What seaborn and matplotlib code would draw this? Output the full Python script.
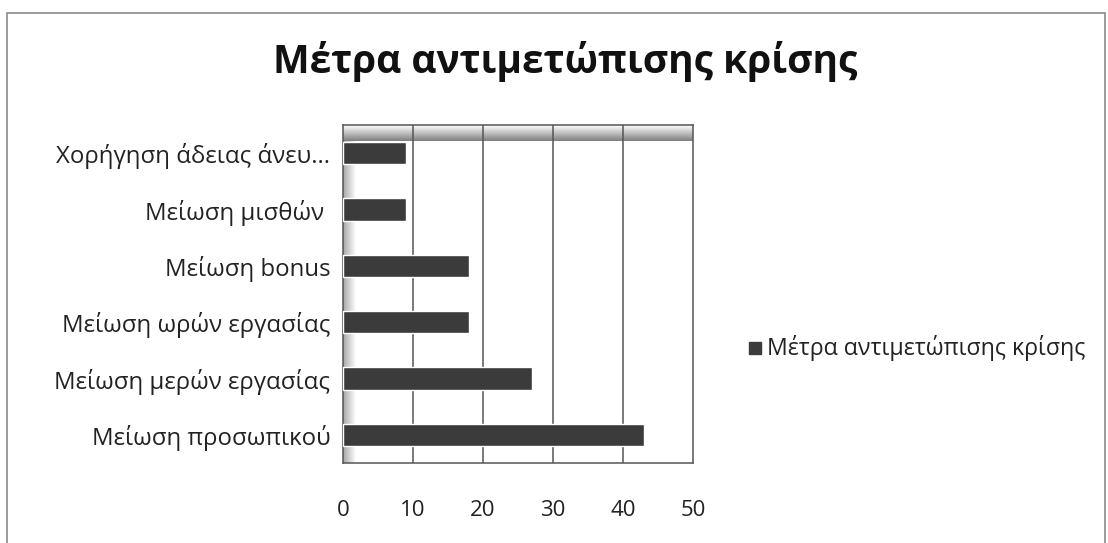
import numpy as np
import pandas as pd
import matplotlib
matplotlib.use("Agg")
import matplotlib.pyplot as plt
import seaborn as sns
from matplotlib.patches import Rectangle

categories = [
    "Χορήγηση άδειας άνευ...",
    "Μείωση μισθών ",
    "Μείωση bonus",
    "Μείωση ωρών εργασίας",
    "Μείωση μερών εργασίας",
    "Μείωση προσωπικού",
]
values = [9, 9, 18, 18, 27, 43]
series_name = "Μέτρα αντιμετώπισης κρίσης"
x_ticks = [0, 10, 20, 30, 40, 50]

sns.set_style("white")
plt.rcParams["font.family"] = ["Open Sans", "DejaVu Sans"]

df = pd.DataFrame({"measure": categories, "value": values})

fig = plt.figure(figsize=(11.08, 5.43), dpi=100)
fig.patch.set_facecolor("white")
ax = fig.add_axes([343 / 1108, 1 - 463 / 543, 350 / 1108, 338 / 543])

# chart border
fig.add_artist(Rectangle((7 / 1108, -0.01), 1098 / 1108, 1 - 13 / 543 + 0.01,
                         transform=fig.transFigure, fill=False,
                         edgecolor="#8a8a8a", lw=1.2))

# shaded back and side walls
left_grad = np.linspace(0.65, 1.0, 50).reshape(1, -1)
ax.imshow(left_grad, cmap="gray", vmin=0, vmax=1, aspect="auto",
          extent=[0, 1.8, 5.5, -0.5], zorder=0)
top_grad = np.linspace(0.5, 1.0, 50).reshape(-1, 1)
ax.imshow(top_grad, cmap="gray", vmin=0, vmax=1, aspect="auto",
          extent=[0, 50, -0.5, -0.22], origin="upper", zorder=0.5)

sns.barplot(data=df, y="measure", x="value", orient="h", ax=ax,
            color="#3b3b3b", width=0.4, saturation=1, zorder=3)

ax.set_xlim(0, 50)
ax.set_ylim(5.5, -0.5)
ax.set_xticks(x_ticks)
ax.set_xticklabels([str(t) for t in x_ticks], fontsize=16, color="#222222")
for t in x_ticks[1:-1]:
    ax.axvline(t, color="#555555", lw=1.1, zorder=1)
for side in ["top", "right", "left", "bottom"]:
    ax.spines[side].set_visible(True)
    ax.spines[side].set_color("#555555")
    ax.spines[side].set_linewidth(1.1)
ax.set_xlabel("")
ax.set_ylabel("")
ax.tick_params(axis="x", direction="out", length=5, width=1, color="#555555", pad=22)
ax.set_yticks(range(len(categories)))
ax.set_yticklabels(categories, fontsize=17.3, color="#222222")
ax.tick_params(axis="y", length=0, pad=9)
# category boundary ticks on the value axis
ax.set_yticks(np.arange(-0.5, 6.0, 1.0), minor=True)
ax.tick_params(axis="y", which="minor", direction="out", length=5, width=1, color="#555555")

fig.text(565 / 1108, 1 - 62 / 543, "Μέτρα αντιμετώπισης κρίσης", ha="center", va="center",
         fontsize=28, fontweight="bold", color="#111111")

fig.add_artist(Rectangle((749 / 1108, 1 - 354 / 543), 12 / 1108, 12 / 543,
                         transform=fig.transFigure, color="#3b3b3b"))
fig.text(767 / 1108, 1 - 348 / 543, series_name, ha="left", va="center",
         fontsize=16.7, color="#222222")

fig.savefig("out.png", dpi=100)
